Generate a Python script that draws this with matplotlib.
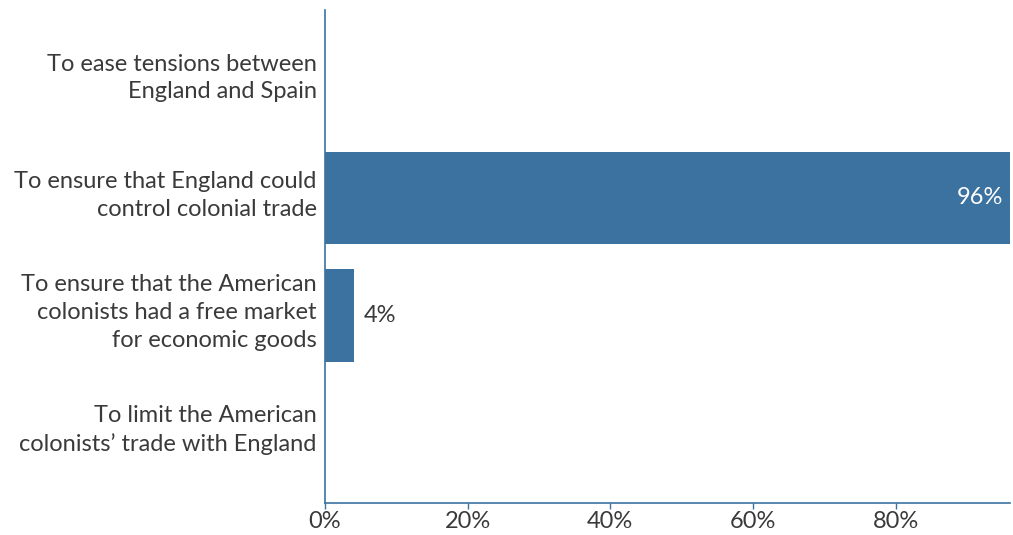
import matplotlib.pyplot as plt
from matplotlib.ticker import FuncFormatter
from matplotlib.transforms import ScaledTranslation

plt.rcParams['font.family'] = ['Lato', 'DejaVu Sans']

labels = [
    "To ease tensions between\nEngland and Spain",
    "To ensure that England could\ncontrol colonial trade",
    "To ensure that the American\ncolonists had a free market\nfor economic goods",
    "To limit the American\ncolonists\u2019 trade with England",
]
values = [0, 96, 4, 0]

bar_color = "#3b72a0"
text_color = "#3a3a3a"

fig = plt.figure(figsize=(10.13, 5.35), dpi=100)
ax = fig.add_axes([0.3208, 0.0598, 0.676, 0.921])

pos = list(range(len(labels)))
ax.barh(pos, values, height=0.79, color=bar_color)
ax.set_ylim(3.6, -0.6)
ax.set_xlim(0, 96)

ax.set_yticks(pos)
ax.set_yticklabels(labels, fontsize=17, color=text_color, linespacing=1.4)
ax.tick_params(axis='y', length=0, pad=6)
# labels sit a little above the bar centres in the original
shift = ScaledTranslation(0, 0.08, fig.dpi_scale_trans)
for lbl in ax.get_yticklabels():
    lbl.set_transform(lbl.get_transform() + shift)

ax.set_xticks([0, 20, 40, 60, 80])
ax.xaxis.set_major_formatter(FuncFormatter(lambda v, p: f"{v:.0f}%"))
ax.tick_params(axis='x', labelsize=17, labelcolor=text_color, color=bar_color,
               length=4, width=1, pad=2)

for s in ['top', 'right']:
    ax.spines[s].set_visible(False)
for s in ['left', 'bottom']:
    ax.spines[s].set_color(bar_color)
    ax.spines[s].set_linewidth(1.2)

for p, v in zip(pos, values):
    if v >= 50:
        ax.text(v - 1, p, f"{v}%", ha='right', va='center', color='white', fontsize=17)
    elif v > 0:
        ax.text(v + 1.5, p, f"{v}%", ha='left', va='center', color=text_color, fontsize=17)

fig.savefig("out.png")
